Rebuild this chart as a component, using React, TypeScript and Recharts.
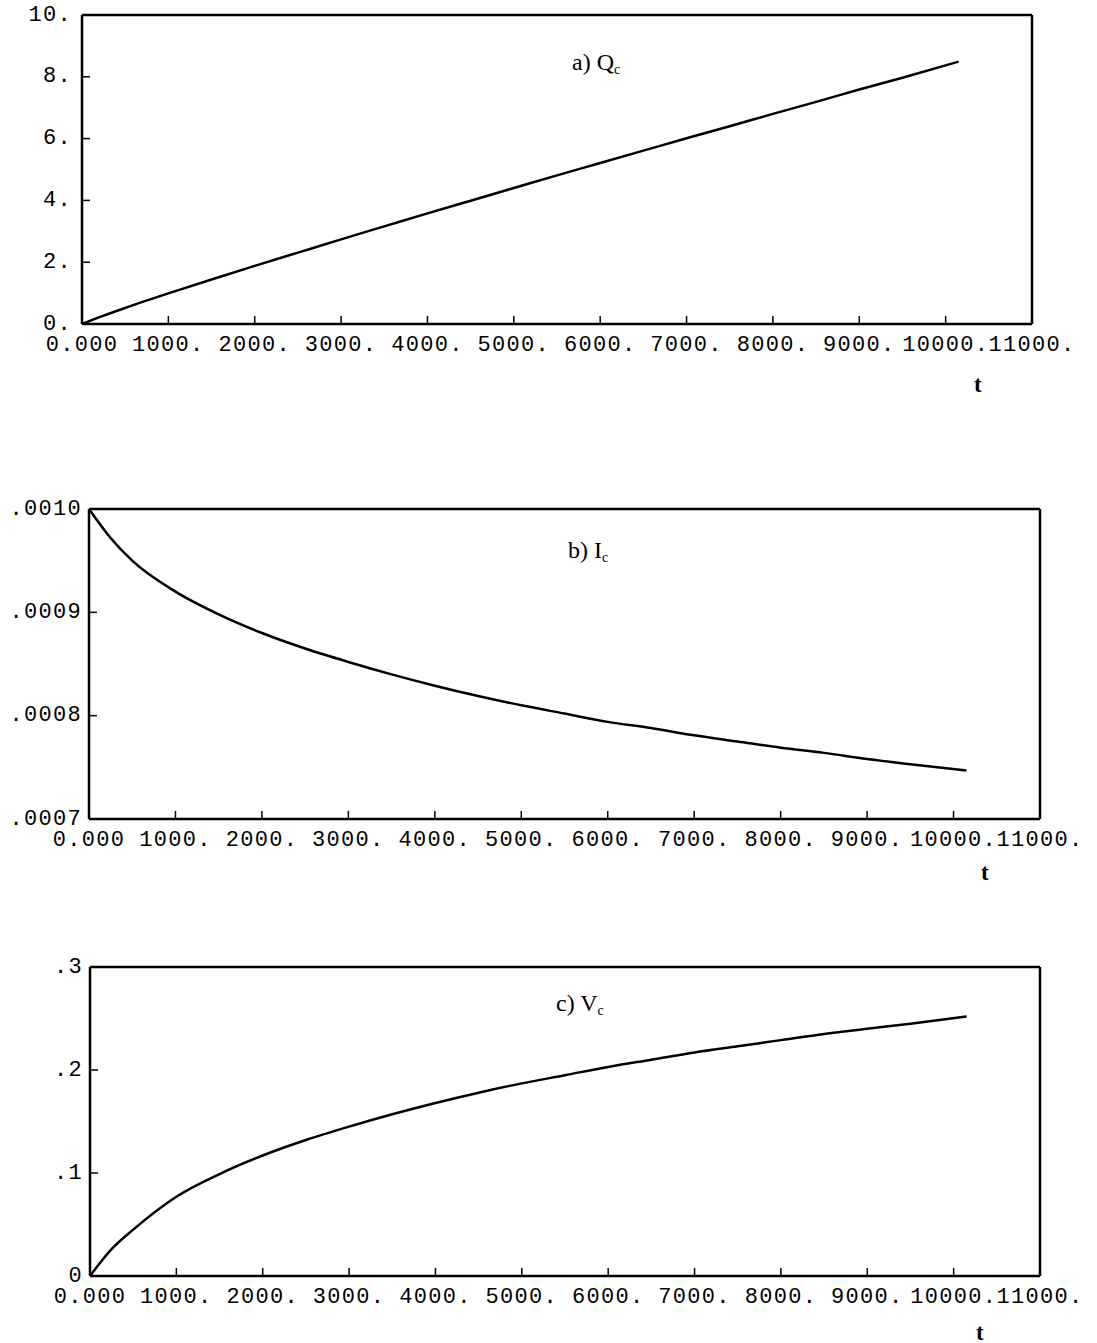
import React from 'react';
import { LineChart, Line, XAxis, YAxis } from 'recharts';

// sample times shared by all three curves
const TIME = [0, 250, 500, 1000, 1500, 2000, 2500, 3000, 3500, 4000, 4500, 5000, 5500, 6000, 6500, 7000, 7500, 8000, 8500, 9000, 9500, 10150];

const Q_C = [0, 0.27, 0.52, 0.99, 1.44, 1.88, 2.31, 2.74, 3.16, 3.58, 3.99, 4.40, 4.81, 5.21, 5.61, 6.01, 6.40, 6.80, 7.19, 7.59, 7.97, 8.49];
const I_C = [0.001, 0.000972, 0.000950, 0.000920, 0.000898, 0.000880, 0.000865, 0.000852, 0.000840, 0.000829, 0.000819, 0.000810, 0.000802, 0.000794, 0.000788, 0.000781, 0.000775, 0.000769, 0.000764, 0.000758, 0.000753, 0.000747];
const V_C = [0, 0.026, 0.045, 0.077, 0.099, 0.117, 0.132, 0.145, 0.157, 0.168, 0.178, 0.187, 0.195, 0.203, 0.210, 0.217, 0.223, 0.229, 0.235, 0.240, 0.245, 0.252];

const X_TICKS = [0, 1000, 2000, 3000, 4000, 5000, 6000, 7000, 8000, 9000, 10000, 11000];
const X_LABELS = ['0.000', '1000.', '2000.', '3000.', '4000.', '5000.', '6000.', '7000.', '8000.', '9000.', '10000.', '11000.'];

const Q_TICKS = [0, 2, 4, 6, 8, 10];
const Q_LABELS = ['0.', '2.', '4.', '6.', '8.', '10.'];
const I_TICKS = [0.0007, 0.0008, 0.0009, 0.001];
const I_LABELS = ['.0007', '.0008', '.0009', '.0010'];
const V_TICKS = [0, 0.1, 0.2, 0.3];
const V_LABELS = ['0', '.1', '.2', '.3'];

const MONO = '"Liberation Mono", "Courier New", monospace';
const SERIF = '"Liberation Serif", "Times New Roman", serif';
const AXIS = { stroke: '#000', strokeWidth: 2.5 };
const TICK_LINE = { stroke: '#000', strokeWidth: 1.5 };

const xTick = (props: any) => (
  <text x={props.x} y={props.y} textAnchor="middle" dominantBaseline="central"
    fontFamily={MONO} fontSize={22} letterSpacing={1.3} fill="#000">
    {X_LABELS[props.index]}
  </text>
);

const yTick = (labels: string[]) => (props: any) => (
  <text x={props.x} y={props.y} textAnchor="end" dominantBaseline="central"
    fontFamily={MONO} fontSize={22} letterSpacing={1.3} fill="#000">
    {labels[props.index]}
  </text>
);

type PanelProps = {
  top: number;
  height: number;
  marginTop: number;
  marginRight: number;
  yWidth: number;
  xHeight: number;
  yGap: number;
  values: number[];
  yDomain: [number, number];
  yTicks: number[];
  yLabels: string[];
  name: string;
  sub: string;
  titleX: number;
  titleY: number;
  tX: number;
  tY: number;
};

const Panel: React.FC<PanelProps> = (p) => {
  const data = TIME.map((t, i) => ({ t, v: p.values[i] }));
  // top/right axes are 1px thick so they still render and close the frame
  return (
    <div style={{ position: 'absolute', left: 0, top: p.top, width: 1097, height: p.height }}>
      <LineChart width={1097} height={p.height} data={data}
        margin={{ top: p.marginTop - 1, right: p.marginRight - 1, bottom: 0, left: 0 }}>
        <XAxis dataKey="t" type="number" domain={[0, 11000]} ticks={X_TICKS}
          height={p.xHeight} axisLine={AXIS} tickLine={TICK_LINE} tickSize={-8} tickMargin={29}
          tick={xTick} interval={0} allowDataOverflow />
        <XAxis xAxisId="top" orientation="top" dataKey="t" type="number" domain={[0, 11000]}
          ticks={X_TICKS} height={1} axisLine={AXIS} tickLine={TICK_LINE} tickSize={-8}
          tick={false} interval={0} allowDataOverflow />
        <YAxis type="number" domain={p.yDomain} ticks={p.yTicks} width={p.yWidth}
          axisLine={AXIS} tickLine={TICK_LINE} tickSize={-8} tickMargin={8 + p.yGap}
          tick={yTick(p.yLabels)} interval={0} allowDataOverflow />
        <YAxis yAxisId="right" orientation="right" type="number" domain={p.yDomain}
          ticks={p.yTicks} width={1} axisLine={AXIS} tickLine={TICK_LINE} tickSize={-8}
          tick={false} interval={0} allowDataOverflow />
        <Line xAxisId="top" yAxisId="right" type="monotone" dataKey="v" stroke="none"
          dot={false} activeDot={false} isAnimationActive={false} />
        <Line type="monotone" dataKey="v" stroke="#000" strokeWidth={2.5} dot={false}
          isAnimationActive={false} />
      </LineChart>
      <div style={{ position: 'absolute', left: p.titleX, top: p.titleY, fontFamily: SERIF,
        fontSize: 24, lineHeight: '24px', whiteSpace: 'nowrap', color: '#000' }}>
        {p.name}<span style={{ fontSize: 14, position: 'relative', top: 4 }}>{p.sub}</span>
      </div>
      <div style={{ position: 'absolute', left: p.tX, top: p.tY, fontFamily: SERIF,
        fontSize: 23, fontWeight: 'bold', lineHeight: '23px', color: '#000' }}>
        t
      </div>
    </div>
  );
};

export default function App() {
  return (
    <div style={{ position: 'absolute', left: 0, top: 0, width: 1097, height: 1343, background: '#fff' }}>
      <Panel top={0} height={400} marginTop={15} marginRight={65} yWidth={82} xHeight={76} yGap={10}
        values={Q_C} yDomain={[0, 10]} yTicks={Q_TICKS} yLabels={Q_LABELS}
        name="a) Q" sub="c" titleX={572} titleY={50} tX={974} tY={373} />
      <Panel top={480} height={420} marginTop={29} marginRight={57} yWidth={89} xHeight={81} yGap={7}
        values={I_C} yDomain={[0.0007, 0.001]} yTicks={I_TICKS} yLabels={I_LABELS}
        name="b) I" sub="c" titleX={568} titleY={58} tX={981} tY={381} />
      <Panel top={940} height={403} marginTop={27} marginRight={57} yWidth={90} xHeight={67} yGap={7}
        values={V_C} yDomain={[0, 0.3]} yTicks={V_TICKS} yLabels={V_LABELS}
        name="c) V" sub="c" titleX={556} titleY={51} tX={976} tY={381} />
    </div>
  );
}
